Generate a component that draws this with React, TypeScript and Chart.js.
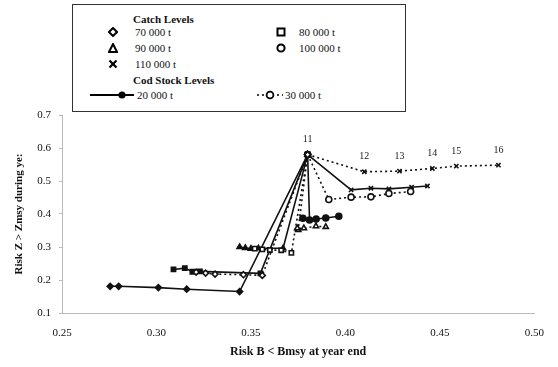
import React, { useEffect, useRef } from 'react';
import { Chart, registerables } from 'chart.js';

Chart.register(...registerables);

// ---------- data ----------
const catchLevels = ['70 000 t', '80 000 t', '90 000 t', '100 000 t', '110 000 t'];
const codLevels = ['20 000 t', '30 000 t'];
const yearLabels = ['11', '12', '13', '14', '15', '16'];
const xTickValues = [0.25, 0.3, 0.35, 0.4, 0.45, 0.5];
const xTickLabels = ['0.25', '0.30', '0.35', '0.40', '0.45', '0.50'];
const yTickValues = [0.1, 0.2, 0.3, 0.4, 0.5, 0.6, 0.7];
const yTickLabels = ['0.1', '0.2', '0.3', '0.4', '0.5', '0.6', '0.7'];

// Risk B < Bmsy (x) and Risk Z > Zmsy (y), years 11..16
// cod stock 20 000 t
const cod20c70X = [0.380, 0.344, 0.316, 0.301, 0.280, 0.2755];
const cod20c70Y = [0.580, 0.165, 0.172, 0.177, 0.181, 0.181];
const cod20c80X = [0.380, 0.355, 0.323, 0.319, 0.315, 0.309];
const cod20c80Y = [0.580, 0.220, 0.226, 0.225, 0.236, 0.232];
const cod20c90X = [0.380, 0.367, 0.354, 0.350, 0.347, 0.344];
const cod20c90Y = [0.580, 0.296, 0.296, 0.295, 0.297, 0.300];
const cod20c100X = [0.380, 0.381, 0.3775, 0.3845, 0.3896, 0.3965];
const cod20c100Y = [0.580, 0.382, 0.387, 0.385, 0.388, 0.393];
const cod20c110X = [0.380, 0.403, 0.4135, 0.423, 0.435, 0.4434];
const cod20c110Y = [0.580, 0.473, 0.478, 0.476, 0.481, 0.485];
// cod stock 30 000 t
const cod30c70X = [0.380, 0.356, 0.346, 0.331, 0.326, 0.321];
const cod30c70Y = [0.580, 0.214, 0.216, 0.218, 0.221, 0.224];
const cod30c80X = [0.380, 0.3714, 0.366, 0.360, 0.356, 0.352];
const cod30c80Y = [0.580, 0.282, 0.290, 0.291, 0.293, 0.295];
const cod30c90X = [0.380, 0.375, 0.3745, 0.378, 0.3844, 0.3896];
const cod30c90Y = [0.580, 0.352, 0.357, 0.357, 0.363, 0.361];
const cod30c100X = [0.380, 0.3912, 0.403, 0.4135, 0.423, 0.4345];
const cod30c100Y = [0.580, 0.444, 0.451, 0.452, 0.462, 0.468];
const cod30c110X = [0.380, 0.410, 0.4286, 0.446, 0.4587, 0.481];
const cod30c110Y = [0.580, 0.528, 0.530, 0.538, 0.545, 0.548];

const pointStyles = ['rectRot', 'rect', 'triangle', 'circle', 'crossRot'];
const FONT = "'Liberation Serif', 'Times New Roman', serif";

const zip = (xs: number[], ys: number[]) => xs.map((x, i) => ({ x, y: ys[i] }));

const solidSeries = [
  zip(cod20c70X, cod20c70Y),
  zip(cod20c80X, cod20c80Y),
  zip(cod20c90X, cod20c90Y),
  zip(cod20c100X, cod20c100Y),
  zip(cod20c110X, cod20c110Y),
];
const dottedSeries = [
  zip(cod30c70X, cod30c70Y),
  zip(cod30c80X, cod30c80Y),
  zip(cod30c90X, cod30c90Y),
  zip(cod30c100X, cod30c100Y),
  zip(cod30c110X, cod30c110Y),
];

const yearLabelPlugin = {
  id: 'yearLabels',
  afterDatasetsDraw(chart: any) {
    const idx = chart.data.datasets.findIndex((d: any) => d.label === `${codLevels[1]} ${catchLevels[4]}`);
    if (idx < 0) return;
    const meta = chart.getDatasetMeta(idx);
    const ctx = chart.ctx;
    ctx.save();
    ctx.fillStyle = '#222';
    ctx.font = `10px ${FONT}`;
    ctx.textAlign = 'center';
    ctx.textBaseline = 'middle';
    meta.data.forEach((el: any, i: number) => {
      ctx.fillText(yearLabels[i], el.x, el.y - 15);
    });
    ctx.restore();
  },
};

function Marker({ kind }: { kind: number }) {
  const s = 'black';
  const sw = 2;
  let shape: any = null;
  if (kind === 0) shape = <polygon points="5,1 9,5 5,9 1,5" fill="white" stroke={s} strokeWidth={sw} />;
  if (kind === 1) shape = <rect x="1.5" y="1.5" width="7" height="7" fill="white" stroke={s} strokeWidth={sw} />;
  if (kind === 2) shape = <polygon points="5,1 9,9 1,9" fill="white" stroke={s} strokeWidth={sw} />;
  if (kind === 3) shape = <circle cx="5" cy="5" r="3.6" fill="white" stroke={s} strokeWidth={sw} />;
  if (kind === 4)
    shape = (
      <g stroke={s} strokeWidth={2.2}>
        <line x1="1.5" y1="1.5" x2="8.5" y2="8.5" />
        <line x1="8.5" y1="1.5" x2="1.5" y2="8.5" />
      </g>
    );
  return (
    <svg width={10} height={10} style={{ position: 'absolute', left: -5, top: -5 }}>
      {shape}
    </svg>
  );
}

function Legend() {
  const txt: React.CSSProperties = {
    position: 'absolute',
    fontFamily: FONT,
    fontSize: 11,
    color: '#111',
    whiteSpace: 'nowrap',
    lineHeight: '12px',
  };
  const rows = [
    { k: 0, mx: 40, tx: 62, y: 27 },
    { k: 1, mx: 208, tx: 226, y: 27 },
    { k: 2, mx: 40, tx: 62, y: 43 },
    { k: 3, mx: 208, tx: 226, y: 43 },
    { k: 4, mx: 40, tx: 62, y: 59 },
  ];
  return (
    <div
      style={{
        position: 'absolute',
        left: 72,
        top: 4,
        width: 334,
        height: 108,
        border: '1.5px solid #333',
        background: 'white',
        boxSizing: 'border-box',
      }}
    >
      <div style={{ ...txt, left: 60, top: 8, fontWeight: 'bold' }}>Catch Levels</div>
      {rows.map((r) => (
        <React.Fragment key={r.k}>
          <div style={{ position: 'absolute', left: r.mx, top: r.y }}>
            <Marker kind={r.k} />
          </div>
          <div style={{ ...txt, left: r.tx, top: r.y - 6 }}>{catchLevels[r.k]}</div>
        </React.Fragment>
      ))}
      <div style={{ ...txt, left: 60, top: 69, fontWeight: 'bold' }}>Cod Stock Levels</div>
      <svg width={50} height={10} style={{ position: 'absolute', left: 17, top: 85 }}>
        <line x1="0" y1="5" x2="44" y2="5" stroke="black" strokeWidth={2} />
        <circle cx="32" cy="5" r="3.6" fill="black" />
      </svg>
      <div style={{ ...txt, left: 64, top: 84 }}>{codLevels[0]}</div>
      <svg width={30} height={10} style={{ position: 'absolute', left: 184, top: 85 }}>
        <line x1="0" y1="5" x2="26" y2="5" stroke="black" strokeWidth={1.5} strokeDasharray="2 3" />
        <circle cx="13" cy="5" r="3.4" fill="white" stroke="black" strokeWidth={1.8} />
      </svg>
      <div style={{ ...txt, left: 212, top: 84 }}>{codLevels[1]}</div>
    </div>
  );
}

export default function App() {
  const ref = useRef<HTMLCanvasElement | null>(null);

  useEffect(() => {
    if (!ref.current) return;
    const datasets: any[] = [];
    dottedSeries.forEach((d, i) => {
      datasets.push({
        label: `${codLevels[1]} ${catchLevels[i]}`,
        data: d,
        showLine: true,
        borderColor: '#111',
        borderWidth: 1.6,
        borderDash: [2, 3],
        pointStyle: pointStyles[i],
        pointRadius: 3,
        pointBorderWidth: 1.6,
        pointBackgroundColor: 'white',
        pointBorderColor: '#111',
      });
    });
    solidSeries.forEach((d, i) => {
      datasets.push({
        label: `${codLevels[0]} ${catchLevels[i]}`,
        data: d,
        showLine: true,
        borderColor: '#111',
        borderWidth: 1.6,
        pointStyle: pointStyles[i],
        pointRadius: 3,
        pointBorderWidth: 1.6,
        pointBackgroundColor: '#111',
        pointBorderColor: '#111',
      });
    });

    const chart = new Chart(ref.current, {
      type: 'scatter',
      data: { datasets },
      plugins: [yearLabelPlugin],
      options: {
        animation: false,
        responsive: false,
        maintainAspectRatio: false,
        layout: { padding: { top: 115, right: 16, left: 0, bottom: 0 } },
        plugins: { legend: { display: false }, tooltip: { enabled: false } },
        elements: { line: { tension: 0 } },
        scales: {
          x: {
            type: 'linear',
            min: 0.25,
            max: 0.5,
            afterBuildTicks: (s: any) => {
              s.ticks = xTickValues.map((v) => ({ value: v }));
            },
            afterFit: (s: any) => {
              s.height = 54;
            },
            ticks: {
              callback: (_v: any, i: number) => xTickLabels[i],
              padding: 14,
              color: '#111',
              font: { family: FONT, size: 11 },
            },
            grid: { display: true, drawOnChartArea: false, drawTicks: false },
            border: { color: '#bbb', width: 1 },
            title: {
              display: true,
              text: 'Risk B < Bmsy at year end',
              color: '#111',
              font: { family: FONT, size: 12, weight: 'bold' },
              padding: { top: 0, bottom: 8 },
            },
          },
          y: {
            type: 'linear',
            min: 0.1,
            max: 0.7,
            afterBuildTicks: (s: any) => {
              s.ticks = yTickValues.map((v) => ({ value: v }));
            },
            afterFit: (s: any) => {
              s.width = 62;
            },
            ticks: {
              callback: (_v: any, i: number) => yTickLabels[i],
              padding: 8,
              color: '#111',
              font: { family: FONT, size: 11 },
            },
            grid: { display: true, drawOnChartArea: false, drawTicks: true, tickLength: 3, color: '#bbb' },
            border: { color: '#bbb', width: 1 },
            title: {
              display: true,
              text: 'Risk Z > Zmsy during ye:',
              color: '#111',
              font: { family: FONT, size: 11, weight: 'bold' },
              padding: { top: 13, bottom: 0 },
            },
          },
        },
      } as any,
    });
    return () => chart.destroy();
  }, []);

  return (
    <div style={{ position: 'fixed', left: 0, top: 0, width: 558, height: 367, background: 'white', overflow: 'hidden' }}>
      <canvas ref={ref} width={558} height={367} style={{ position: 'absolute', left: 0, top: 0, width: 558, height: 367 }} />
      <Legend />
    </div>
  );
}
